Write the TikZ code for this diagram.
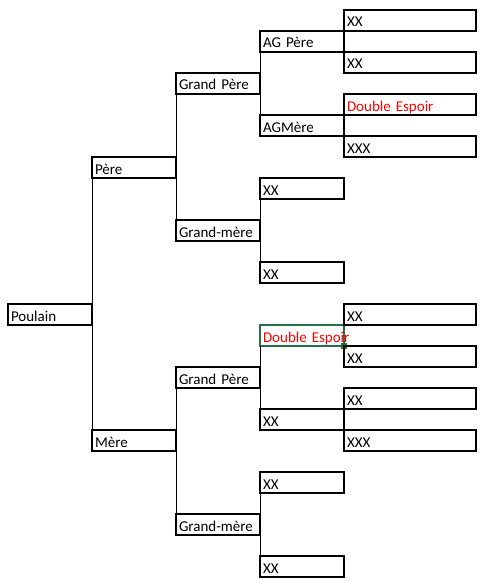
\documentclass[tikz,border=0pt]{standalone}
\usepackage{fontspec}
\usepackage{xcolor}
\usepackage{tikz}
\newfontfamily\cellfont{Carlito}
\definecolor{selectgreen}{RGB}{33, 115, 70}
\definecolor{alertred}{RGB}{255, 0, 0}

\begin{document}
\begin{tikzpicture}[
  x=1pt, y=-1pt,
  cell/.style={rectangle, draw=black, line width=2pt, outer sep=0pt, anchor=north west,
    inner xsep=3pt, inner ysep=0pt, text width=78pt, text height=17pt, text depth=4pt,
    align=left, font=\cellfont\fontsize{15}{18}\selectfont},
  widecell/.style={cell, text width=126pt},
  selected/.style={cell, draw=selectgreen, text=alertred},
  grip/.style={rectangle, fill=selectgreen, minimum size=6pt, inner sep=0pt},
  link/.style={line width=1pt, color=black}
]
  \useasboundingbox (0,0) rectangle (486,583);

  % foal and parents
  \node[cell] (poulain) at (8,304) {Poulain};
  \node[cell] (pere) at (92,157) {Père};
  \node[cell] (mere) at (92,430) {Mère};

  % grandparents
  \node[cell] (gpereP) at (176,73) {Grand Père};
  \node[cell] (gmereP) at (176,220) {Grand-mère};
  \node[cell] (gpereM) at (176,367) {Grand Père};
  \node[cell] (gmereM) at (176,514) {Grand-mère};

  % great-grandparents
  \node[cell] (agpere) at (260,31) {AG Père};
  \node[cell] (agmere) at (260,115) {AGMère};
  \node[cell] (xxA) at (260,178) {XX};
  \node[cell] (xxB) at (260,262) {XX};
  \node[selected] (dblM) at (260,325) {\mbox{Double Espoir}};
  \node[cell] (xxC) at (260,409) {XX};
  \node[cell] (xxD) at (260,472) {XX};
  \node[cell] (xxE) at (260,556) {XX};
  \node[grip] (handle) at (dblM.south east) {};

  % last column
  \node[widecell] (agA) at (344,10) {XX};
  \node[widecell] (agB) at (344,52) {XX};
  \node[widecell, text=alertred] (agC) at (344,94) {Double Espoir};
  \node[widecell] (agD) at (344,136) {XXX};
  \node[widecell] (agE) at (344,304) {XX};
  \node[widecell] (agF) at (344,346) {XX};
  \node[widecell] (agG) at (344,388) {XX};
  \node[widecell] (agH) at (344,430) {XXX};

  \draw[link] (pere.south west) -- (mere.north west);
  \draw[link] (gpereP.south west) -- (gmereP.north west);
  \draw[link] (gpereM.south west) -- (gmereM.north west);
  \draw[link] (agpere.south west) -- (agmere.north west);
  \draw[link] (xxA.south west) -- (xxB.north west);
  \draw[link] (dblM.south west) -- (xxC.north west);
  \draw[link] (xxD.south west) -- (xxE.north west);
\end{tikzpicture}
\end{document}
